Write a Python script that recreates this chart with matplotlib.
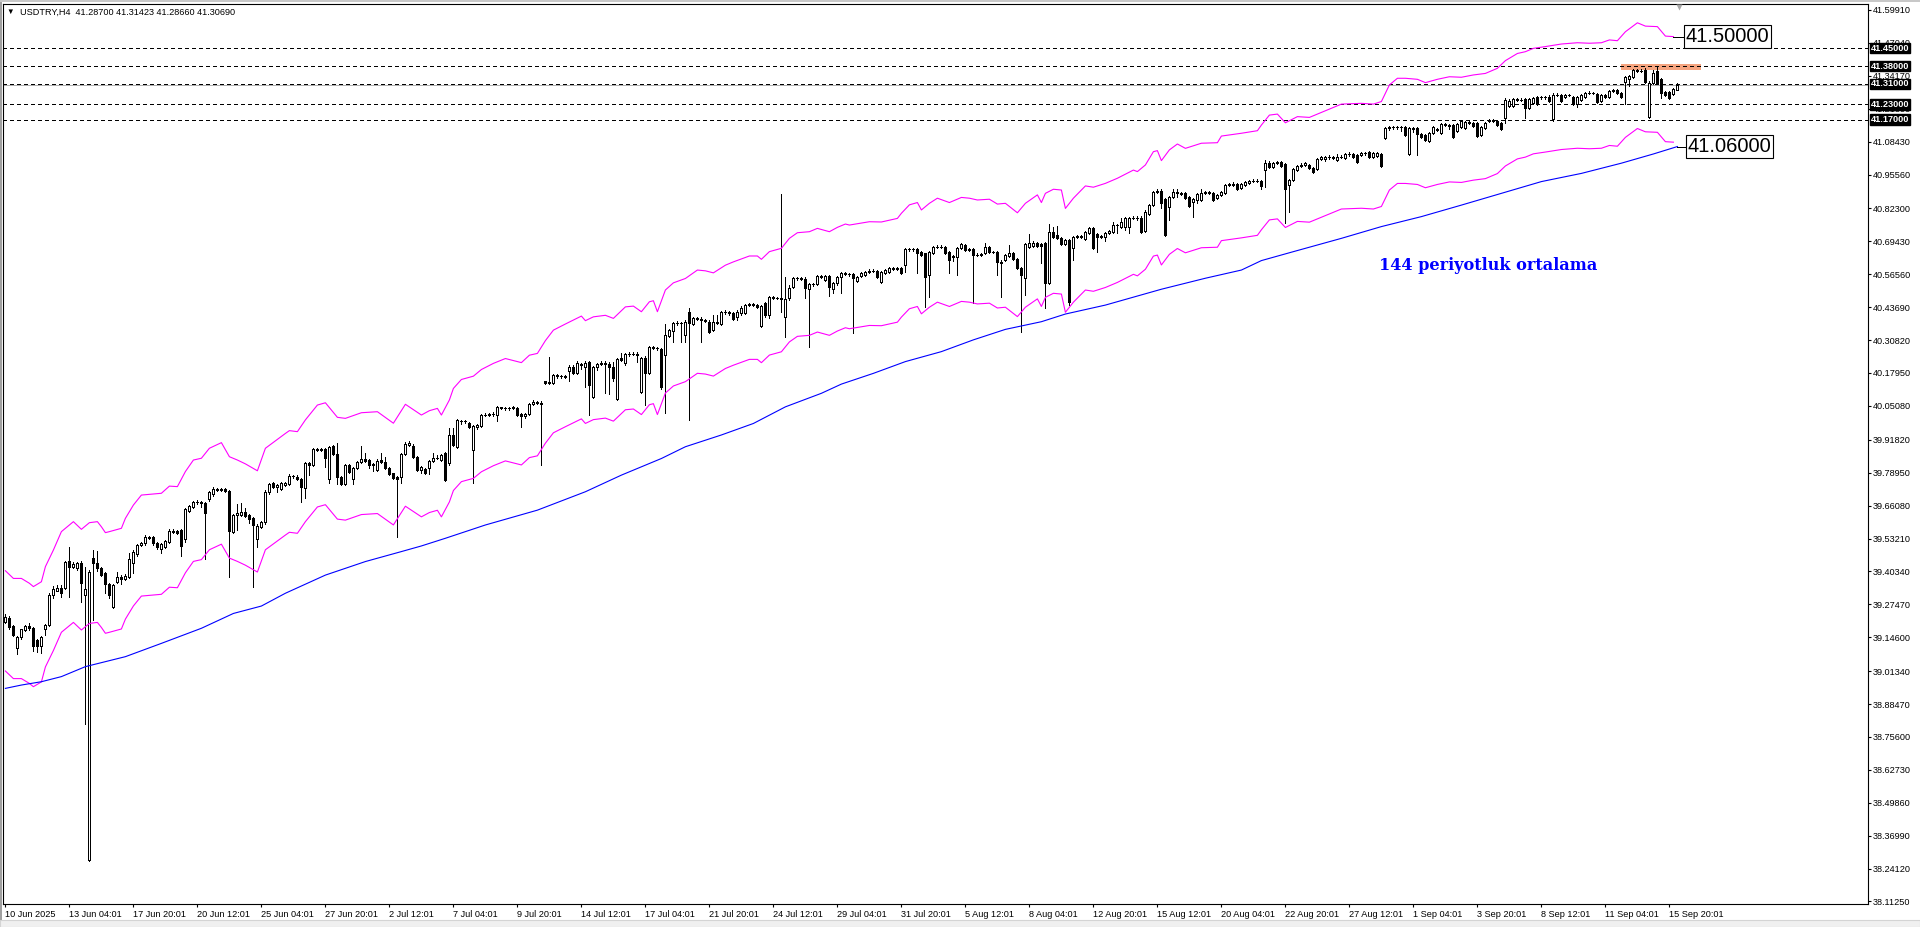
import matplotlib.pyplot as plt
from matplotlib.patches import Rectangle
from matplotlib.transforms import blended_transform_factory
import numpy as np

plt.rcParams['font.family'] = ['Liberation Sans', 'DejaVu Sans']
plt.rcParams['lines.scale_dashes'] = False

symbol = "USDTRY,H4"

# ---- H4 candles (bar 0 = 10 Jun 2025 12:00) ----
opens = [
    39.207, 39.220, 39.190, 39.103, 39.146, 39.176, 39.190, 39.182, 39.135, 39.110,
    39.180, 39.194, 39.311, 39.328, 39.340, 39.340, 39.444, 39.422, 39.415, 39.438,
    39.311, 38.275, 39.455, 39.438, 39.415, 39.396, 39.354, 39.266, 39.363, 39.383,
    39.373, 39.383, 39.438, 39.470, 39.507, 39.513, 39.539, 39.539, 39.513, 39.491,
    39.500, 39.520, 39.556, 39.563, 39.565, 39.529, 39.640, 39.654, 39.676, 39.674,
    39.672, 39.685, 39.705, 39.724, 39.722, 39.727, 39.718, 39.559, 39.624, 39.624,
    39.635, 39.624, 39.611, 39.529, 39.578, 39.595, 39.713, 39.748, 39.735, 39.726,
    39.742, 39.745, 39.777, 39.774, 39.763, 39.728, 39.829, 39.820, 39.881, 39.880,
    39.881, 39.763, 39.894, 39.863, 39.774, 39.745, 39.820, 39.765, 39.807, 39.833,
    39.842, 39.839, 39.820, 39.800, 39.839, 39.833, 39.807, 39.787, 39.771, 39.774,
    39.863, 39.898, 39.895, 39.852, 39.800, 39.803, 39.807, 39.835, 39.846, 39.839,
    39.868, 39.826, 39.937, 39.891, 39.993, 39.990, 39.983, 39.878, 39.970, 39.972,
    40.015, 40.016, 40.018, 40.015, 40.045, 40.042, 40.041, 40.042, 40.041, 40.020,
    40.013, 40.019, 40.058, 40.067, 40.064, 40.147, 40.140, 40.139, 40.170, 40.168,
    40.168, 40.188, 40.202, 40.178, 40.214, 40.204, 40.222, 40.087, 40.204, 40.213,
    40.217, 40.213, 40.204, 40.076, 40.237, 40.217, 40.253, 40.254, 40.254, 40.106,
    40.237, 40.180, 40.280, 40.279, 40.272, 40.250, 40.324, 40.345, 40.376, 40.373,
    40.328, 40.419, 40.371, 40.393, 40.392, 40.386, 40.380, 40.347, 40.380, 40.371,
    40.417, 40.419, 40.413, 40.397, 40.413, 40.415, 40.445, 40.448, 40.444, 40.364,
    40.452, 40.406, 40.475, 40.473, 40.473, 40.400, 40.471, 40.517, 40.549, 40.550,
    40.548, 40.506, 40.527, 40.527, 40.558, 40.543, 40.558, 40.506, 40.530, 40.556,
    40.569, 40.568, 40.566, 40.540, 40.559, 40.563, 40.576, 40.580, 40.580, 40.537,
    40.572, 40.576, 40.589, 40.587, 40.589, 40.602, 40.663, 40.664, 40.663, 40.654,
    40.647, 40.563, 40.650, 40.671, 40.674, 40.674, 40.654, 40.632, 40.634, 40.667,
    40.680, 40.661, 40.663, 40.641, 40.642, 40.647, 40.671, 40.654, 40.654, 40.615,
    40.621, 40.638, 40.647, 40.624, 40.589, 40.550, 40.674, 40.676, 40.689, 40.684,
    40.689, 40.530, 40.732, 40.719, 40.706, 40.684, 40.700, 40.667, 40.713, 40.714,
    40.702, 40.728, 40.745, 40.723, 40.715, 40.713, 40.726, 40.732, 40.758, 40.752,
    40.749, 40.752, 40.784, 40.786, 40.787, 40.735, 40.801, 40.836, 40.889, 40.893,
    40.859, 40.828, 40.866, 40.889, 40.885, 40.882, 40.866, 40.850, 40.856, 40.856,
    40.885, 40.886, 40.882, 40.863, 40.876, 40.882, 40.915, 40.917, 40.917, 40.902,
    40.915, 40.921, 40.932, 40.931, 40.932, 40.975, 41.002, 40.984, 41.002, 41.006,
    40.996, 40.915, 40.934, 40.973, 40.989, 40.992, 40.993, 40.982, 40.976, 41.015,
    41.015, 41.025, 41.024, 41.013, 41.026, 41.019, 41.036, 41.036, 41.032, 41.032,
    41.039, 41.045, 41.025, 41.028, 41.036, 41.097, 41.136, 41.140, 41.141, 41.140,
    41.140, 41.036, 41.136, 41.136, 41.114, 41.110, 41.088, 41.117, 41.130, 41.119,
    41.153, 41.150, 41.150, 41.127, 41.143, 41.136, 41.162, 41.158, 41.158, 41.110,
    41.136, 41.165, 41.169, 41.166, 41.156, 41.175, 41.224, 41.224, 41.250, 41.247,
    41.250, 41.214, 41.234, 41.258, 41.258, 41.257, 41.260, 41.171, 41.266, 41.266,
    41.260, 41.267, 41.260, 41.232, 41.249, 41.258, 41.273, 41.276, 41.271, 41.244,
    41.266, 41.260, 41.284, 41.285, 41.275, 41.319, 41.328, 41.336, 41.364, 41.362,
    41.364, 41.182, 41.315, 41.362, 41.328, 41.280, 41.280, 41.270, 41.28700,
]
highs = [
    39.235, 39.228, 39.195, 39.152, 39.180, 39.195, 39.200, 39.186, 39.140, 39.152,
    39.198, 39.320, 39.345, 39.350, 39.350, 39.445, 39.500, 39.440, 39.442, 39.445,
    39.422, 39.410, 39.487, 39.485, 39.420, 39.400, 39.360, 39.355, 39.402, 39.388,
    39.392, 39.477, 39.487, 39.512, 39.520, 39.545, 39.543, 39.543, 39.517, 39.515,
    39.528, 39.570, 39.568, 39.567, 39.568, 39.652, 39.665, 39.680, 39.682, 39.679,
    39.676, 39.718, 39.735, 39.730, 39.729, 39.730, 39.722, 39.628, 39.667, 39.670,
    39.650, 39.628, 39.615, 39.587, 39.602, 39.720, 39.750, 39.752, 39.745, 39.752,
    39.752, 39.785, 39.782, 39.780, 39.767, 39.833, 39.833, 39.885, 39.888, 39.888,
    39.885, 39.895, 39.898, 39.907, 39.778, 39.824, 39.824, 39.811, 39.837, 39.894,
    39.868, 39.843, 39.826, 39.842, 39.865, 39.850, 39.810, 39.790, 39.775, 39.867,
    39.910, 39.913, 39.900, 39.856, 39.814, 39.806, 39.840, 39.865, 39.859, 39.862,
    39.870, 39.963, 39.963, 39.998, 39.995, 39.996, 39.986, 39.976, 39.980, 40.020,
    40.022, 40.022, 40.025, 40.050, 40.048, 40.048, 40.047, 40.052, 40.048, 40.022,
    40.023, 40.062, 40.072, 40.070, 40.068, 40.150, 40.243, 40.175, 40.175, 40.173,
    40.171, 40.212, 40.210, 40.225, 40.220, 40.228, 40.228, 40.208, 40.220, 40.225,
    40.228, 40.222, 40.222, 40.240, 40.256, 40.258, 40.262, 40.260, 40.262, 40.243,
    40.245, 40.285, 40.285, 40.283, 40.276, 40.371, 40.352, 40.380, 40.381, 40.380,
    40.385, 40.432, 40.398, 40.400, 40.398, 40.392, 40.386, 40.406, 40.406, 40.422,
    40.425, 40.422, 40.418, 40.424, 40.441, 40.450, 40.455, 40.452, 40.448, 40.446,
    40.456, 40.480, 40.480, 40.478, 40.879, 40.556, 40.523, 40.553, 40.556, 40.555,
    40.553, 40.533, 40.532, 40.562, 40.562, 40.562, 40.562, 40.535, 40.560, 40.575,
    40.575, 40.572, 40.572, 40.557, 40.576, 40.580, 40.585, 40.586, 40.584, 40.580,
    40.587, 40.593, 40.593, 40.594, 40.593, 40.667, 40.670, 40.670, 40.668, 40.658,
    40.650, 40.658, 40.676, 40.680, 40.680, 40.678, 40.658, 40.640, 40.672, 40.689,
    40.685, 40.668, 40.668, 40.648, 40.650, 40.687, 40.676, 40.658, 40.658, 40.620,
    40.645, 40.680, 40.652, 40.628, 40.593, 40.688, 40.723, 40.694, 40.693, 40.688,
    40.693, 40.762, 40.752, 40.754, 40.710, 40.704, 40.704, 40.717, 40.720, 40.720,
    40.736, 40.750, 40.750, 40.727, 40.720, 40.732, 40.740, 40.771, 40.762, 40.784,
    40.788, 40.790, 40.792, 40.792, 40.792, 40.815, 40.840, 40.893, 40.898, 40.898,
    40.863, 40.870, 40.898, 40.898, 40.888, 40.886, 40.870, 40.863, 40.884, 40.898,
    40.892, 40.890, 40.886, 40.880, 40.893, 40.920, 40.922, 40.928, 40.921, 40.923,
    40.932, 40.936, 40.937, 40.937, 40.936, 41.012, 41.008, 41.006, 41.010, 41.010,
    41.000, 40.938, 40.980, 40.993, 40.999, 41.004, 40.997, 40.986, 41.019, 41.030,
    41.030, 41.032, 41.030, 41.036, 41.032, 41.040, 41.042, 41.040, 41.036, 41.043,
    41.045, 41.049, 41.043, 41.045, 41.040, 41.140, 41.145, 41.146, 41.146, 41.146,
    41.144, 41.140, 41.140, 41.140, 41.118, 41.114, 41.123, 41.147, 41.138, 41.157,
    41.158, 41.154, 41.154, 41.157, 41.170, 41.166, 41.165, 41.162, 41.162, 41.147,
    41.160, 41.174, 41.172, 41.170, 41.160, 41.255, 41.250, 41.255, 41.255, 41.254,
    41.254, 41.255, 41.258, 41.262, 41.262, 41.263, 41.265, 41.275, 41.273, 41.270,
    41.272, 41.272, 41.264, 41.262, 41.272, 41.280, 41.282, 41.280, 41.275, 41.270,
    41.270, 41.288, 41.290, 41.290, 41.280, 41.342, 41.346, 41.368, 41.370, 41.368,
    41.371, 41.320, 41.364, 41.377, 41.332, 41.284, 41.284, 41.293, 41.31423,
]
lows = [
    39.200, 39.180, 39.150, 39.080, 39.140, 39.170, 39.175, 39.094, 39.090, 39.085,
    39.155, 39.190, 39.300, 39.325, 39.305, 39.335, 39.305, 39.415, 39.410, 39.285,
    38.807, 38.270, 39.213, 39.405, 39.385, 39.318, 39.298, 39.262, 39.358, 39.354,
    39.368, 39.378, 39.396, 39.465, 39.503, 39.508, 39.530, 39.508, 39.490, 39.474,
    39.496, 39.515, 39.552, 39.550, 39.465, 39.520, 39.635, 39.650, 39.668, 39.657,
    39.451, 39.680, 39.700, 39.718, 39.718, 39.714, 39.380, 39.555, 39.565, 39.620,
    39.618, 39.591, 39.344, 39.500, 39.574, 39.590, 39.708, 39.728, 39.715, 39.722,
    39.738, 39.740, 39.770, 39.760, 39.675, 39.690, 39.780, 39.815, 39.875, 39.875,
    39.813, 39.748, 39.858, 39.745, 39.740, 39.740, 39.790, 39.745, 39.802, 39.828,
    39.833, 39.807, 39.798, 39.796, 39.828, 39.802, 39.780, 39.763, 39.537, 39.750,
    39.858, 39.895, 39.846, 39.796, 39.787, 39.783, 39.785, 39.830, 39.842, 39.835,
    39.758, 39.820, 39.895, 39.885, 39.980, 39.982, 39.965, 39.748, 39.960, 39.968,
    40.010, 40.010, 40.012, 39.993, 40.038, 40.036, 40.036, 40.038, 40.010, 39.967,
    40.005, 40.015, 40.054, 40.058, 39.820, 40.136, 40.136, 40.135, 40.160, 40.160,
    40.158, 40.149, 40.176, 40.174, 40.195, 40.123, 40.015, 40.080, 40.190, 40.210,
    40.100, 40.097, 40.150, 40.072, 40.225, 40.210, 40.245, 40.248, 40.223, 40.100,
    40.054, 40.175, 40.272, 40.270, 40.118, 40.021, 40.320, 40.302, 40.368, 40.302,
    40.302, 39.995, 40.366, 40.385, 40.302, 40.378, 40.336, 40.342, 40.370, 40.366,
    40.412, 40.408, 40.385, 40.386, 40.408, 40.410, 40.440, 40.440, 40.432, 40.360,
    40.400, 40.393, 40.470, 40.468, 40.419, 40.319, 40.466, 40.512, 40.545, 40.543,
    40.471, 40.282, 40.518, 40.522, 40.550, 40.538, 40.480, 40.491, 40.523, 40.491,
    40.563, 40.560, 40.334, 40.535, 40.555, 40.559, 40.572, 40.574, 40.550, 40.533,
    40.568, 40.572, 40.583, 40.584, 40.565, 40.576, 40.658, 40.658, 40.572, 40.637,
    40.439, 40.478, 40.646, 40.668, 40.668, 40.646, 40.569, 40.619, 40.563, 40.663,
    40.657, 40.656, 40.452, 40.636, 40.638, 40.643, 40.650, 40.647, 40.563, 40.478,
    40.617, 40.634, 40.620, 40.585, 40.341, 40.485, 40.670, 40.672, 40.672, 40.611,
    40.432, 40.526, 40.709, 40.702, 40.680, 40.680, 40.445, 40.621, 40.708, 40.708,
    40.698, 40.724, 40.663, 40.654, 40.706, 40.697, 40.722, 40.728, 40.728, 40.748,
    40.739, 40.728, 40.780, 40.779, 40.728, 40.730, 40.797, 40.832, 40.884, 40.823,
    40.715, 40.778, 40.862, 40.866, 40.875, 40.858, 40.829, 40.788, 40.843, 40.852,
    40.880, 40.878, 40.852, 40.858, 40.872, 40.878, 40.911, 40.911, 40.894, 40.898,
    40.911, 40.917, 40.927, 40.926, 40.898, 40.908, 40.980, 40.980, 40.998, 40.985,
    40.765, 40.810, 40.930, 40.969, 40.985, 40.988, 40.976, 40.963, 40.972, 41.012,
    41.010, 41.018, 41.017, 41.008, 41.020, 41.015, 41.030, 41.019, 41.002, 41.028,
    41.033, 41.021, 41.020, 41.024, 40.985, 41.093, 41.130, 41.135, 41.134, 41.127,
    41.106, 41.032, 41.122, 41.032, 41.100, 41.087, 41.084, 41.113, 41.127, 41.115,
    41.145, 41.132, 41.100, 41.123, 41.139, 41.132, 41.152, 41.140, 41.102, 41.106,
    41.132, 41.160, 41.160, 41.145, 41.128, 41.156, 41.220, 41.220, 41.242, 41.242,
    41.175, 41.210, 41.230, 41.228, 41.252, 41.252, 41.240, 41.166, 41.261, 41.240,
    41.256, 41.262, 41.228, 41.218, 41.245, 41.254, 41.270, 41.270, 41.237, 41.240,
    41.255, 41.256, 41.280, 41.269, 41.256, 41.231, 41.302, 41.332, 41.356, 41.356,
    41.315, 41.178, 41.310, 41.310, 41.254, 41.262, 41.250, 41.266, 41.28660,
]
closes = [
    39.226, 39.187, 39.155, 39.148, 39.177, 39.190, 39.182, 39.112, 39.110, 39.148,
    39.194, 39.311, 39.333, 39.340, 39.318, 39.442, 39.422, 39.432, 39.435, 39.360,
    39.333, 39.400, 39.438, 39.415, 39.390, 39.354, 39.311, 39.350, 39.383, 39.373,
    39.386, 39.451, 39.481, 39.507, 39.516, 39.539, 39.536, 39.513, 39.500, 39.511,
    39.524, 39.563, 39.563, 39.555, 39.504, 39.648, 39.659, 39.676, 39.673, 39.670,
    39.633, 39.713, 39.724, 39.722, 39.724, 39.718, 39.563, 39.624, 39.631, 39.636,
    39.622, 39.610, 39.585, 39.582, 39.598, 39.715, 39.745, 39.732, 39.741, 39.748,
    39.748, 39.777, 39.775, 39.765, 39.735, 39.829, 39.820, 39.881, 39.880, 39.881,
    39.846, 39.891, 39.863, 39.774, 39.745, 39.820, 39.794, 39.807, 39.833, 39.842,
    39.837, 39.820, 39.822, 39.837, 39.833, 39.807, 39.784, 39.768, 39.763, 39.863,
    39.900, 39.904, 39.850, 39.800, 39.810, 39.790, 39.835, 39.848, 39.848, 39.858,
    39.761, 39.937, 39.898, 39.995, 39.990, 39.993, 39.969, 39.972, 39.975, 40.015,
    40.016, 40.018, 40.020, 40.045, 40.042, 40.041, 40.042, 40.045, 40.015, 40.010,
    40.019, 40.058, 40.067, 40.062, 40.057, 40.140, 40.143, 40.171, 40.168, 40.168,
    40.165, 40.204, 40.180, 40.217, 40.210, 40.220, 40.132, 40.204, 40.213, 40.218,
    40.213, 40.201, 40.158, 40.233, 40.230, 40.253, 40.254, 40.254, 40.250, 40.237,
    40.178, 40.280, 40.279, 40.276, 40.123, 40.328, 40.347, 40.376, 40.373, 40.374,
    40.380, 40.374, 40.393, 40.392, 40.386, 40.384, 40.341, 40.380, 40.376, 40.417,
    40.419, 40.413, 40.389, 40.419, 40.432, 40.445, 40.448, 40.445, 40.436, 40.441,
    40.406, 40.475, 40.473, 40.473, 40.470, 40.467, 40.510, 40.549, 40.550, 40.548,
    40.510, 40.527, 40.528, 40.558, 40.556, 40.558, 40.514, 40.530, 40.556, 40.569,
    40.568, 40.566, 40.549, 40.553, 40.572, 40.576, 40.580, 40.579, 40.554, 40.576,
    40.582, 40.589, 40.587, 40.589, 40.569, 40.663, 40.664, 40.663, 40.647, 40.641,
    40.556, 40.654, 40.671, 40.674, 40.673, 40.650, 40.621, 40.637, 40.667, 40.684,
    40.661, 40.663, 40.641, 40.642, 40.644, 40.674, 40.654, 40.652, 40.615, 40.610,
    40.641, 40.650, 40.624, 40.589, 40.563, 40.684, 40.689, 40.689, 40.676, 40.676,
    40.530, 40.732, 40.713, 40.706, 40.684, 40.700, 40.459, 40.713, 40.714, 40.713,
    40.732, 40.745, 40.667, 40.713, 40.711, 40.728, 40.736, 40.758, 40.757, 40.771,
    40.784, 40.784, 40.786, 40.784, 40.732, 40.810, 40.836, 40.889, 40.890, 40.846,
    40.719, 40.866, 40.889, 40.885, 40.880, 40.863, 40.833, 40.859, 40.880, 40.885,
    40.886, 40.882, 40.856, 40.876, 40.889, 40.915, 40.917, 40.916, 40.898, 40.919,
    40.928, 40.932, 40.931, 40.932, 40.911, 41.002, 40.984, 41.002, 41.004, 40.989,
    40.898, 40.934, 40.976, 40.989, 40.994, 41.000, 40.980, 40.967, 41.015, 41.023,
    41.025, 41.024, 41.022, 41.026, 41.025, 41.036, 41.035, 41.023, 41.006, 41.039,
    41.038, 41.025, 41.039, 41.041, 40.989, 41.136, 41.140, 41.141, 41.140, 41.141,
    41.110, 41.136, 41.132, 41.114, 41.104, 41.091, 41.119, 41.143, 41.133, 41.153,
    41.150, 41.147, 41.104, 41.153, 41.166, 41.162, 41.158, 41.145, 41.106, 41.143,
    41.156, 41.169, 41.166, 41.149, 41.132, 41.249, 41.245, 41.250, 41.247, 41.248,
    41.214, 41.250, 41.254, 41.232, 41.257, 41.258, 41.244, 41.266, 41.267, 41.244,
    41.267, 41.266, 41.232, 41.258, 41.266, 41.273, 41.276, 41.275, 41.241, 41.266,
    41.260, 41.284, 41.285, 41.273, 41.260, 41.336, 41.341, 41.364, 41.362, 41.361,
    41.319, 41.315, 41.354, 41.315, 41.276, 41.267, 41.254, 41.289, 41.30690,
]

# ---- 144-period moving average (blue), read at sample bars ----
ma_bars = [0, 4, 9, 14, 20, 30, 39, 49, 57, 64, 70, 80, 90, 99, 104, 110, 120, 133, 145, 154,
           164, 170, 179, 187, 195, 204, 209, 217, 225, 234, 242, 250, 259, 265, 275, 289, 300,
           309, 314, 322, 334, 344, 354, 364, 374, 384, 394, 404, 412, 418]
ma_vals = [38.946, 38.959, 38.972, 38.992, 39.031, 39.070, 39.122, 39.181, 39.239, 39.268,
           39.318, 39.389, 39.442, 39.481, 39.503, 39.533, 39.585, 39.643, 39.715, 39.780,
           39.845, 39.891, 39.937, 39.982, 40.047, 40.100, 40.136, 40.178, 40.224, 40.263,
           40.309, 40.350, 40.380, 40.410, 40.445, 40.507, 40.550, 40.582, 40.619, 40.654,
           40.706, 40.752, 40.791, 40.836, 40.882, 40.928, 40.960, 41.000, 41.036, 41.065]

# ---- envelope (magenta): upper band, 0.5% deviation ----
env_deviation = 0.005
env_bars = [0, 2, 4, 6, 7, 9, 10, 12, 14, 17, 19, 21, 23, 24, 25, 26, 29, 30, 32, 34,
            37, 39, 41, 43, 45, 47, 49, 51, 54, 56, 58, 60, 63, 65, 68, 70, 71, 73, 75, 78,
            80, 83, 85, 89, 93, 97, 100, 104, 106, 108, 109, 111, 112, 114, 117, 119, 122, 125, 129, 131,
            133, 135, 137, 140, 144, 145, 147, 150, 152, 155, 157, 159, 161, 162, 163, 165, 167, 170, 173, 175,
            177, 180, 182, 186, 188, 189, 191, 194, 196, 198, 201, 203, 206, 208, 210, 211, 216, 219, 223, 224,
            226, 228, 229, 231, 233, 236, 239, 241, 243, 246, 248, 250, 253, 255, 258, 259, 260, 262, 264, 265,
            267, 270, 272, 275, 278, 282, 283, 285, 287, 288, 289, 291, 293, 295, 299, 303, 304, 309, 313, 314,
            316, 318, 320, 323, 326, 330, 334, 339, 342, 344, 346, 348, 350, 353, 355, 358, 361, 364, 367, 370,
            373, 375, 378, 380, 382, 385, 389, 393, 396, 399, 401, 403, 405, 408, 410, 413, 415, 417]
env_upper = [39.406, 39.376, 39.376, 39.357, 39.344, 39.363, 39.422, 39.487, 39.559, 39.598,
             39.568, 39.594, 39.598, 39.578, 39.555, 39.559, 39.572, 39.611, 39.663, 39.702,
             39.706, 39.709, 39.737, 39.735, 39.794, 39.839, 39.846, 39.885, 39.907, 39.852,
             39.839, 39.824, 39.797, 39.885, 39.920, 39.943, 39.954, 39.950, 39.996, 40.054,
             40.063, 40.006, 40.002, 40.024, 40.028, 39.983, 40.057, 40.015, 40.032, 40.041,
             40.015, 40.074, 40.119, 40.154, 40.167, 40.193, 40.217, 40.236, 40.220, 40.249,
             40.256, 40.306, 40.347, 40.371, 40.402, 40.384, 40.399, 40.405, 40.393, 40.438,
             40.441, 40.419, 40.458, 40.462, 40.419, 40.504, 40.532, 40.549, 40.582, 40.579,
             40.571, 40.601, 40.614, 40.637, 40.637, 40.624, 40.654, 40.667, 40.706, 40.728,
             40.732, 40.745, 40.732, 40.749, 40.762, 40.758, 40.771, 40.770, 40.784, 40.804,
             40.837, 40.846, 40.817, 40.843, 40.863, 40.846, 40.866, 40.863, 40.856, 40.859,
             40.840, 40.843, 40.806, 40.843, 40.876, 40.846, 40.882, 40.898, 40.895, 40.823,
             40.863, 40.911, 40.906, 40.921, 40.941, 40.973, 40.967, 40.993, 41.045, 41.049,
             41.010, 41.052, 41.075, 41.058, 41.078, 41.080, 41.106, 41.117, 41.127, 41.149,
             41.188, 41.192, 41.158, 41.182, 41.179, 41.205, 41.231, 41.234, 41.231, 41.241,
             41.306, 41.332, 41.332, 41.328, 41.315, 41.328, 41.338, 41.336, 41.345, 41.351,
             41.371, 41.401, 41.429, 41.436, 41.449, 41.456, 41.466, 41.471, 41.469, 41.471,
             41.482, 41.479, 41.514, 41.549, 41.536, 41.534, 41.497, 41.495]

# ---- axis labels ----
ytick_labels = ['41.59910', '41.47040', '41.34170', '41.21300', '41.08430', '40.95560', '40.82300',
                '40.69430', '40.56560', '40.43690', '40.30820', '40.17950', '40.05080', '39.91820',
                '39.78950', '39.66080', '39.53210', '39.40340', '39.27470', '39.14600', '39.01340',
                '38.88470', '38.75600', '38.62730', '38.49860', '38.36990', '38.24120', '38.11250']
xtick_labels = ['10 Jun 2025', '13 Jun 04:01', '17 Jun 20:01', '20 Jun 12:01', '25 Jun 04:01',
                '27 Jun 20:01', '2 Jul 12:01', '7 Jul 04:01', '9 Jul 20:01', '14 Jul 12:01',
                '17 Jul 04:01', '21 Jul 20:01', '24 Jul 12:01', '29 Jul 04:01', '31 Jul 20:01',
                '5 Aug 12:01', '8 Aug 04:01', '12 Aug 20:01', '15 Aug 12:01', '20 Aug 04:01',
                '22 Aug 20:01', '27 Aug 12:01', '1 Sep 04:01', '3 Sep 20:01', '8 Sep 12:01',
                '11 Sep 04:01', '15 Sep 20:01']
xtick_step = 16  # bars between time labels

# ---- chart objects ----
level_values = [41.45, 41.38, 41.31, 41.23, 41.17]
last_price = 41.30690
zone_bars = (404, 424)
zone_prices = (41.366, 41.388)
env_label = "41.50000"
ma_label = "41.06000"
ma_note = "144 periyotluk ortalama"
ma_note_pos = (343.4, 40.582)
shift_marker_bar = 418.4

# ---- figure (pixel-accurate layout) ----
W, H = 1920, 927
fig = plt.figure(figsize=(W / 100, H / 100), dpi=100)
ax = fig.add_axes([3 / W, 23 / H, 1865 / W, 900 / H])
ax.set_xlim(-0.6, 465.65)
ax.set_ylim(38.1027, 41.6225)
for s in ax.spines.values():
    s.set_linewidth(0.8)
    s.set_color('black')

x = np.arange(len(closes))
o = np.array(opens)
c = np.array(closes)
up = c >= o
body_lo = np.minimum(o, c)
body_h = np.abs(c - o)

# candles (crisp, like the terminal renders them)
ax.vlines(x, lows, highs, color='black', lw=0.72, zorder=3, antialiased=False)
ax.bar(x[up], body_h[up], bottom=body_lo[up], width=0.5, color='white',
       edgecolor='black', linewidth=0.72, zorder=4, antialiased=False)
ax.bar(x[~up], body_h[~up], bottom=body_lo[~up], width=0.5, color='black',
       edgecolor='black', linewidth=0.72, zorder=4, antialiased=False)

# envelope and MA
upper = np.array(env_upper)
mid = upper / (1 + env_deviation)
lower = mid * (1 - env_deviation)
ax.plot(env_bars, upper, color='#ff00ff', lw=0.8, zorder=5)
ax.plot(env_bars, lower, color='#ff00ff', lw=0.8, zorder=5)
ax.plot(ma_bars, ma_vals, color='#0000ff', lw=0.8, zorder=5)

# horizontal levels
for lv in level_values:
    ax.axhline(lv, color='black', lw=0.72, ls=(0, (2.2, 2.2)), zorder=2, antialiased=False)
ax.axhline(last_price, color='#b0b0b0', lw=0.72, zorder=1.5, antialiased=False)

# resistance zone
ax.add_patch(Rectangle((zone_bars[0], zone_prices[0]), zone_bars[1] - zone_bars[0],
                       zone_prices[1] - zone_prices[0], facecolor='#f5a47f',
                       edgecolor='none', zorder=1, clip_on=False))

# value labels at the end of the indicator lines
ax.plot([env_bars[-1], 420.0], [upper[-1], upper[-1]], color='black', lw=0.72, zorder=6,
        antialiased=False)
ax.text(420.0, upper[-1], env_label, fontsize=14.5, va='center', ha='left', zorder=7,
        bbox=dict(boxstyle='square,pad=0.08', fc='white', ec='black', lw=0.8))
ax.plot([ma_bars[-1], 420.6], [ma_vals[-1], ma_vals[-1]], color='black', lw=0.72, zorder=6,
        antialiased=False)
ax.text(420.6, ma_vals[-1], ma_label, fontsize=14.5, va='center', ha='left', zorder=7,
        bbox=dict(boxstyle='square,pad=0.08', fc='white', ec='black', lw=0.8))

ax.text(ma_note_pos[0], ma_note_pos[1], ma_note, family='DejaVu Serif', fontweight='bold',
        fontsize=11.6, color='#0000ff', va='baseline', ha='left', zorder=7)

ax.plot([shift_marker_bar], [41.6107], marker='v', ms=5, color='#a8a8a8',
        mec='none', clip_on=False, zorder=8)

# axes ticks
ax.yaxis.tick_right()
ax.set_yticks([float(t) for t in ytick_labels])
ax.set_yticklabels(ytick_labels)
ax.tick_params(axis='y', length=2.5, width=0.8, pad=1.2, labelsize=6.6)
ax.set_xticks(np.arange(len(xtick_labels)) * xtick_step)
ax.set_xticklabels(xtick_labels, ha='left')
ax.tick_params(axis='x', length=2.5, width=0.8, pad=1.5, labelsize=6.6)

# level price boxes on the price scale
tr = blended_transform_factory(ax.transAxes, ax.transData)
for lv in level_values:
    ax.text(1 + 2.5 / 1865, lv, f'{lv:.5f}', transform=tr, color='white', fontsize=6.6,
            fontweight='bold', va='center', ha='left', zorder=10, clip_on=False,
            bbox=dict(boxstyle='square,pad=0.08', fc='black', ec='black'))

# header
title = f"{symbol}  {opens[-1]:.5f} {highs[-1]:.5f} {lows[-1]:.5f} {closes[-1]:.5f}"
fig.text(6 / W, 1 - 12.5 / H, '\u25bc', fontsize=5.5, va='center', ha='left')
fig.text(20 / W, 1 - 12.5 / H, title, fontsize=6.6, va='center', ha='left')

# window frame
fig.patches.append(Rectangle((0, 0), 2 / W, 1, transform=fig.transFigure,
                             facecolor='#a0a0a0', edgecolor='none'))
fig.patches.append(Rectangle((0, 0), 1, 7 / H, transform=fig.transFigure,
                             facecolor='#f0f0f0', edgecolor='#d4d4d4', lw=0.8))
fig.patches.append(Rectangle((0, 1 - 2 / H), 1, 2 / H, transform=fig.transFigure,
                             facecolor='#c8c8c8', edgecolor='none'))

fig.savefig('out.png', dpi=100)
